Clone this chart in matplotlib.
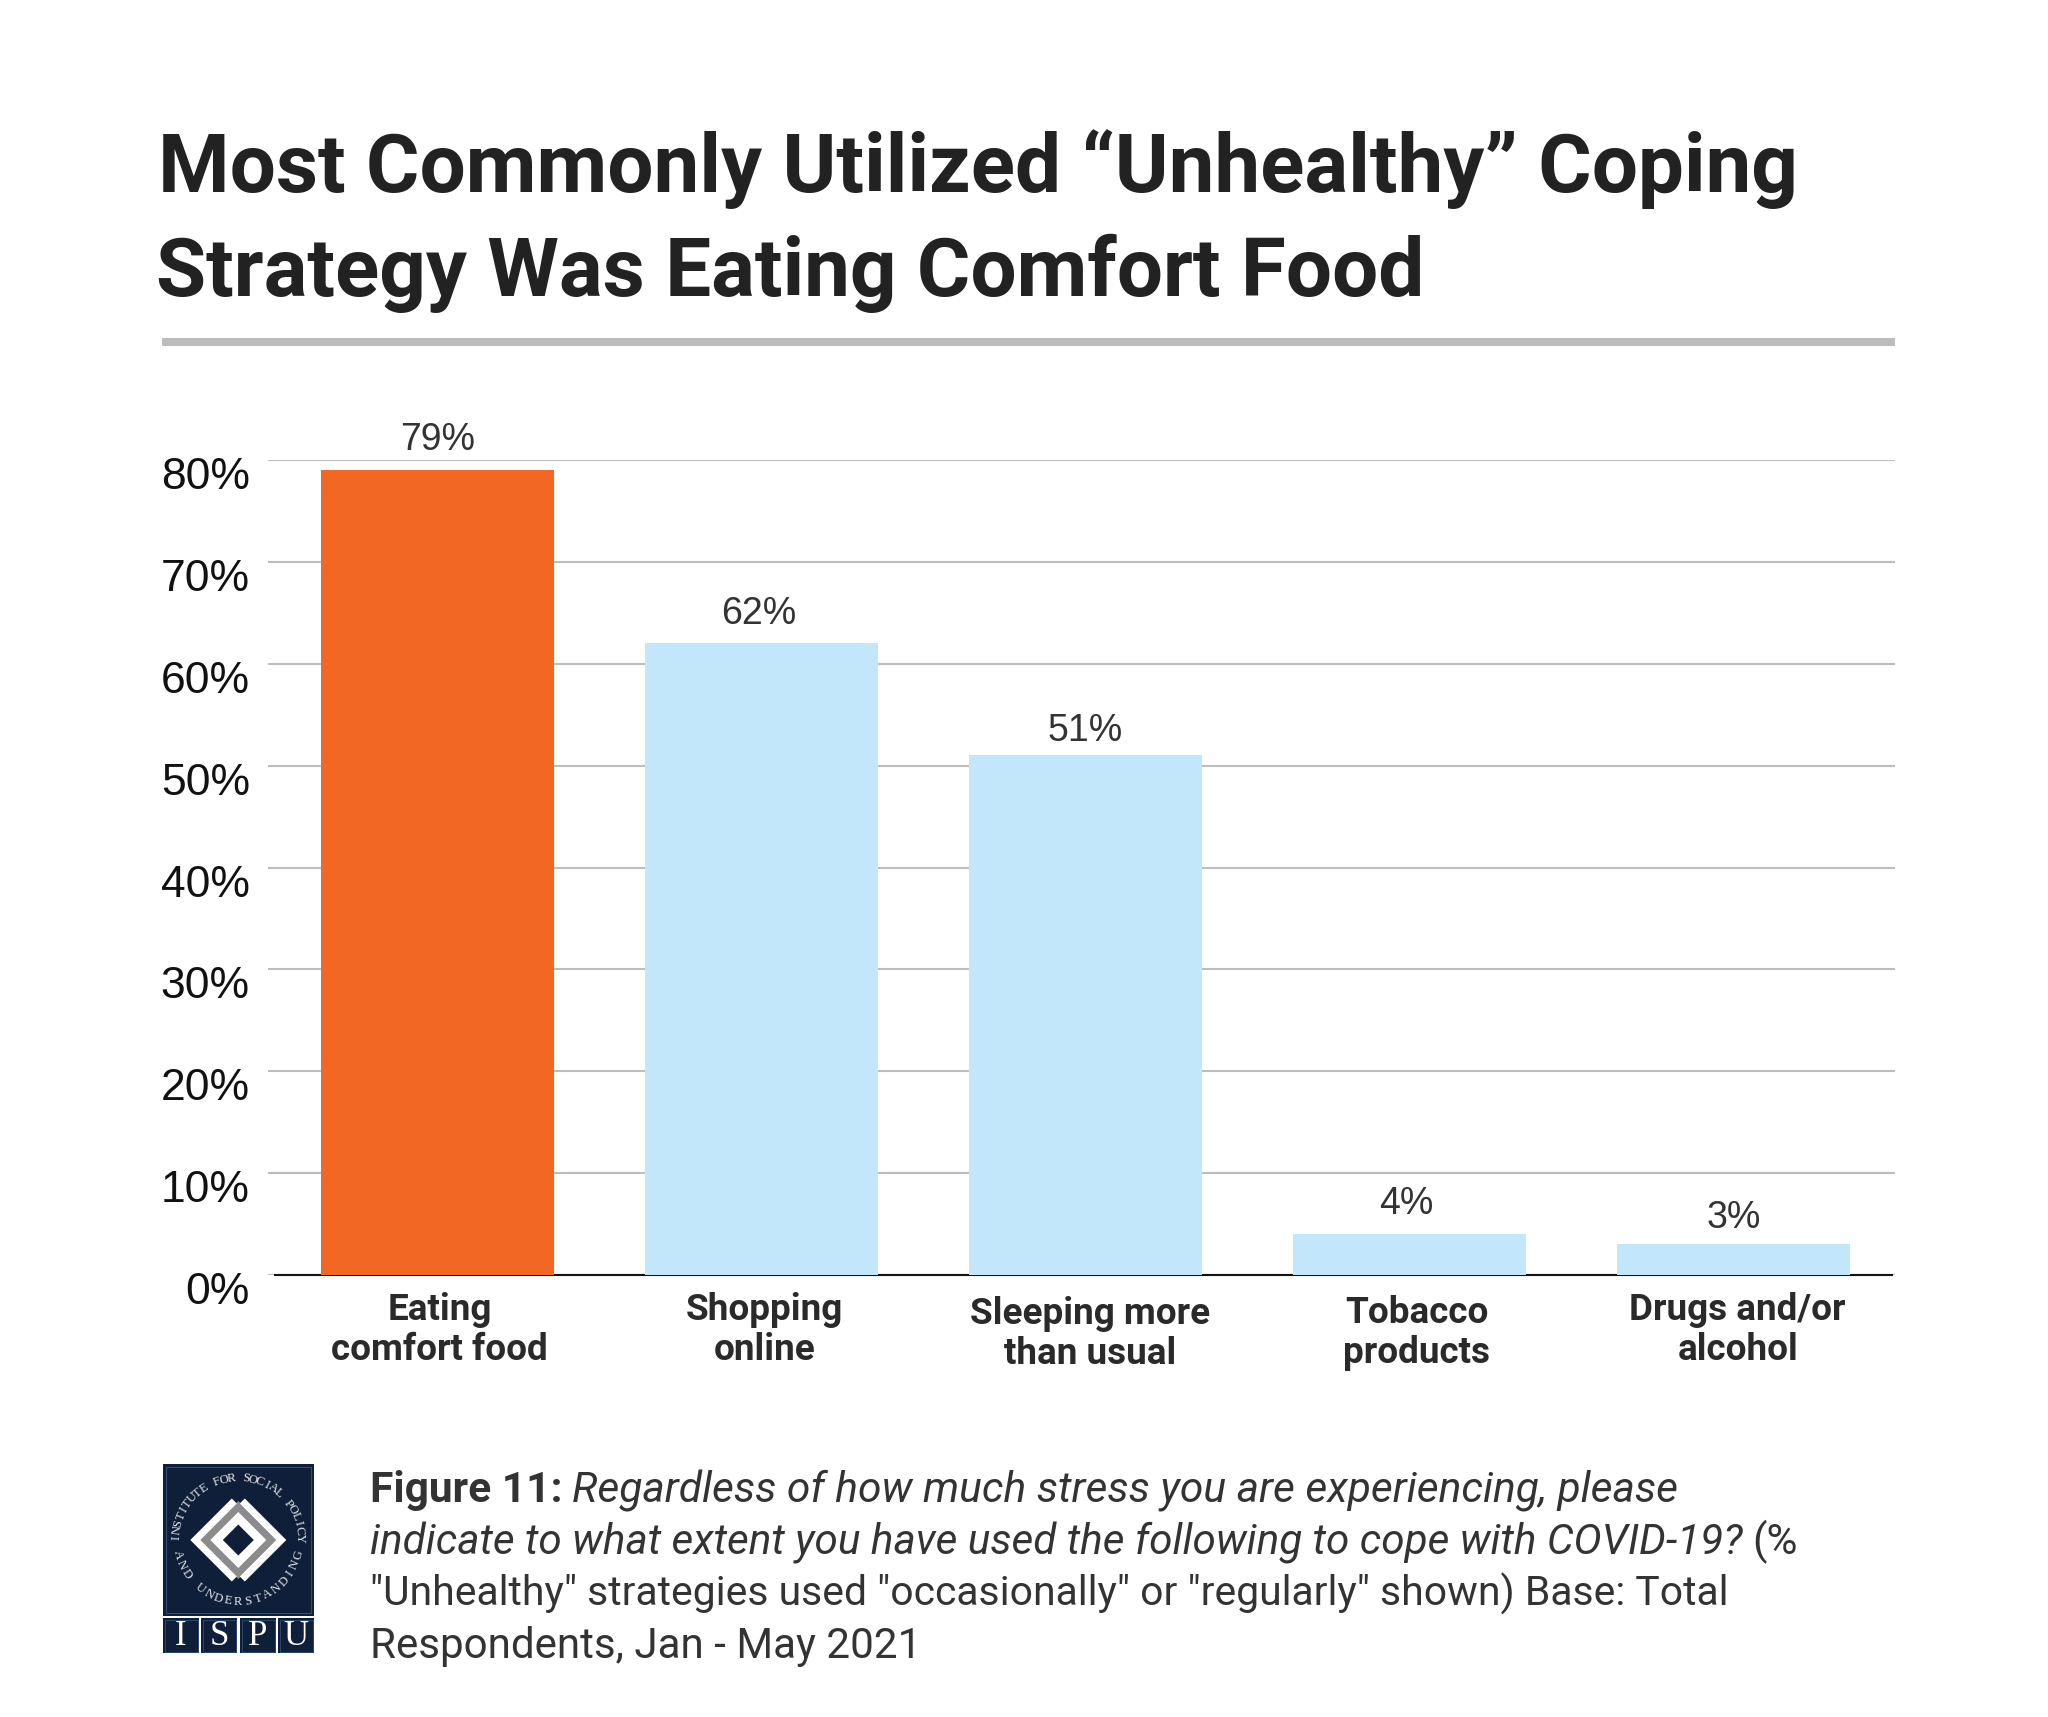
import numpy as np
import matplotlib
matplotlib.use('Agg')
import matplotlib.pyplot as plt
from matplotlib.patches import Polygon, Rectangle
from matplotlib.transforms import ScaledTranslation

categories = ['Eating\ncomfort food', 'Shopping\nonline', 'Sleeping more\nthan usual',
              'Tobacco\nproducts', 'Drugs and/or\nalcohol']
values = [79, 62, 51, 4, 3]
y_ticks = [0, 10, 20, 30, 40, 50, 60, 70, 80]
y_tick_labels = ['0%', '10%', '20%', '30%', '40%', '50%', '60%', '70%', '80%']
bar_colors = ['#f26724', '#c2e7fb', '#c2e7fb', '#c2e7fb', '#c2e7fb']

title_lines = ['Most Commonly Utilized “Unhealthy” Coping', 'Strategy Was Eating Comfort Food']

# (text, style, weight) per line
caption = [
    [('Figure 11:', 'normal', 'bold'), ('Regardless of how much stress you are experiencing, please', 'italic', 'normal')],
    [('indicate to what extent you have used the following to cope with COVID-19?', 'italic', 'normal'), ('(%', 'normal', 'normal')],
    [('"Unhealthy" strategies used "occasionally" or "regularly" shown) Base: Total', 'normal', 'normal')],
    [('Respondents, Jan - May 2021', 'normal', 'normal')],
]

W, H = 2048, 1717
fig = plt.figure(figsize=(W / 100, H / 100), dpi=100, facecolor='white')

# chart axes, placed in pixels
ax_l, ax_r, ax_t, ax_b = 268, 1895, 460, 1275
ax = fig.add_axes([ax_l / W, 1 - ax_b / H, (ax_r - ax_l) / W, (ax_b - ax_t) / H])
x = np.arange(len(values))
bars = ax.bar(x, values, width=0.718, color=bar_colors, zorder=3)
ax.set_xlim(-0.523, 4.498)
ax.set_ylim(0, 80)
ax.set_yticks(y_ticks)
ax.set_yticklabels(y_tick_labels, fontsize=32, family='Liberation Sans', color='#111111')
ax.yaxis.grid(True, color='#bdbdbd', linewidth=1.5, zorder=0)
ax.set_xticks([])
ax.tick_params(axis='y', length=0, pad=13)
for s in ['top', 'left', 'right']:
    ax.spines[s].set_visible(False)
ax.spines['bottom'].set_bounds(-0.502, 4.49)
ax.spines['bottom'].set_color('#111111')
ax.spines['bottom'].set_linewidth(1.5)

# tick labels sit a bit below their gridlines
shift = ScaledTranslation(0, -13 / 100, fig.dpi_scale_trans)
for lab in ax.get_yticklabels():
    lab.set_transform(lab.get_transform() + shift)

value_dx = [0, -3, 0, -3, 0]
value_dy = [12, 11, 6, 12, 8]
for i, v in enumerate(values):
    ax.annotate(f'{v}%', xy=(i, v), xytext=(value_dx[i], value_dy[i]), textcoords='offset pixels',
                ha='center', va='bottom', fontsize=27, family='Liberation Sans', color='#333333')

label_dx = [2, 3, 5, 7, 4]
label_dy = [-55, -55, -59, -58, -55]
for i, name in enumerate(categories):
    ax.annotate(name, xy=(i, 0), xytext=(label_dx[i], label_dy[i]), textcoords='offset pixels',
                ha='center', va='center', fontsize=26.6, fontweight='bold', linespacing=1.15,
                family='Roboto', color='#2a2a2a')

# overlay in pixel coordinates for title, rule, caption and logo
ov = fig.add_axes([0, 0, 1, 1], facecolor='none')
ov.set_xlim(0, W)
ov.set_ylim(H, 0)
ov.axis('off')

ov.text(158, 192, title_lines[0], fontsize=58.9, fontweight='bold', family='Roboto', color='#222222', va='baseline')
ov.text(156, 296, title_lines[1], fontsize=58.9, fontweight='bold', family='Roboto', color='#222222', va='baseline')
ov.add_patch(Rectangle((162, 338), 1733, 8, color='#bcbcbc', lw=0))

# caption runs are placed one after another
renderer = fig.canvas.get_renderer()
cap_x = 370
cap_y = [1502, 1554, 1606, 1658]
cap_size = [30.6, 30.4, 29.4, 30.3]
space = 10
for runs, yy, fs in zip(caption, cap_y, cap_size):
    cx = cap_x
    for txt, style, weight in runs:
        t = ov.text(cx, yy, txt, fontsize=fs, style=style, fontweight=weight, family='Roboto',
                    color='#333333', va='baseline')
        cx = cx + t.get_window_extent(renderer).width + space

# logo
navy = '#0f1f3a'
ov.add_patch(Rectangle((163, 1464), 151, 152, color=navy, lw=0))
ov.add_patch(Rectangle((166, 1467), 145, 146, fill=False, ec='#2f4f78', lw=0.8))
cx0, cy0 = 238.3, 1540


def diamond(h, color):
    ov.add_patch(Polygon([(cx0 - h, cy0), (cx0, cy0 - h), (cx0 + h, cy0), (cx0, cy0 + h)], color=color, lw=0))


diamond(39, '#8c8c8c')
diamond(28, 'white')
diamond(15.5, navy)
chevron = np.array([(-48, 0), (-6.5, -41.5), (-1.5, -36.5), (-38, 0), (-1.5, 36.5), (-6.5, 41.5)])
ov.add_patch(Polygon(chevron + (cx0, cy0), color='white', lw=0))
ov.add_patch(Polygon(chevron * (-1, 1) + (cx0, cy0), color='white', lw=0))


def arc_text(text, a0, a1, radius, top):
    for ch, a in zip(text, np.linspace(a0, a1, len(text))):
        r = np.deg2rad(a)
        px = cx0 + radius * np.cos(r)
        py = cy0 - radius * np.sin(r)
        rot = a - 90 if top else a + 90
        ov.text(px, py, ch, rotation=rot, rotation_mode='anchor', ha='center', va='center',
                fontsize=9, family='Liberation Serif', color='#e8e8e8')


arc_text('INSTITUTE FOR SOCIAL POLICY', 178, 2, 62, True)
arc_text('AND UNDERSTANDING', 194, 346, 62, False)

box_x = [163, 201, 240, 278]
for bx, ch in zip(box_x, 'ISPU'):
    ov.add_patch(Rectangle((bx, 1618), 36, 35, color=navy, lw=0))
    ov.add_patch(Rectangle((bx + 1.5, 1619.5), 33, 32, fill=False, ec='#2f4f78', lw=0.6))
    ov.text(bx + 18, 1636, ch, ha='center', va='center', fontsize=25, family='Liberation Serif', color='white')

fig.savefig('out.png', dpi=100, facecolor='white')
